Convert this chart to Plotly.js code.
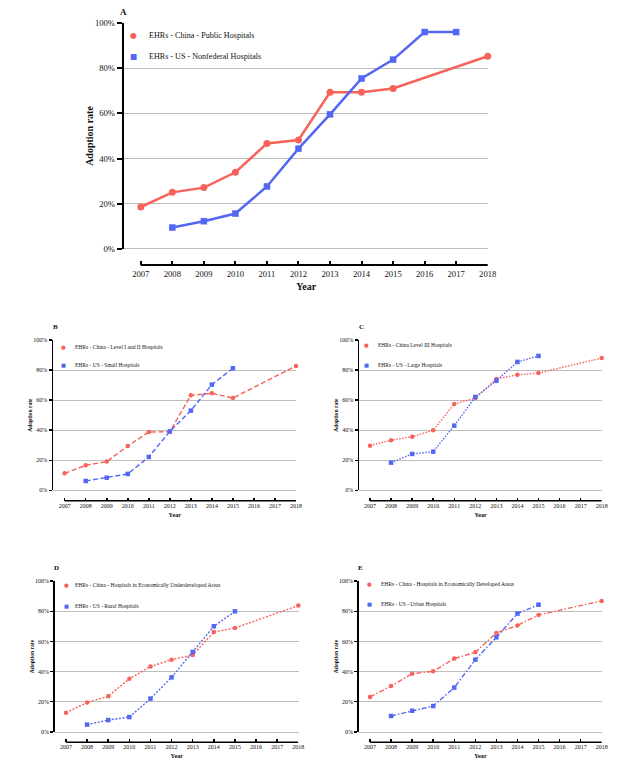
<!DOCTYPE html>
<html>
<head>
<meta charset="utf-8">
<script src="https://cdn.plot.ly/plotly-3.0.1.min.js"></script>
<style>
html,body{margin:0;padding:0;background:#ffffff;}
#chart{width:641px;height:769px;}
</style>
</head>
<body>
<div id="chart"></div>
<script>
// ---------------- DATA ----------------
const years = [2007, 2008, 2009, 2010, 2011, 2012, 2013, 2014, 2015, 2016, 2017, 2018];
const yearLabels = ['2007', '2008', '2009', '2010', '2011', '2012', '2013', '2014', '2015', '2016', '2017', '2018'];
const pctTicks = [0, 20, 40, 60, 80, 100];
const pctLabels = ['0%', '20%', '40%', '60%', '80%', '100%'];

const chinaYears = [2007, 2008, 2009, 2010, 2011, 2012, 2013, 2014, 2015, 2018];
const usYearsA = [2008, 2009, 2010, 2011, 2012, 2013, 2014, 2015, 2016, 2017];
const usYears = [2008, 2009, 2010, 2011, 2012, 2013, 2014, 2015];

// Panel A
const chinaPublic = [18.5, 25.0, 27.1, 33.9, 46.7, 48.2, 69.4, 69.4, 71.1, 85.4];
const usNonfederal = [9.4, 12.2, 15.6, 27.6, 44.4, 59.6, 75.5, 83.9, 96.1, 96.1];
// Panel B
const chinaLevel12 = [11.3, 16.6, 19.1, 29.5, 38.8, 39.0, 63.2, 64.5, 61.4, 82.7];
const usSmall = [6.2, 8.4, 10.9, 22.2, 39.2, 53.0, 70.3, 81.2];
// Panel C
const chinaLevel3 = [29.7, 33.3, 35.7, 39.9, 57.4, 61.4, 74.1, 76.9, 78.0, 88.0];
const usLarge = [18.4, 24.2, 25.7, 43.0, 62.1, 72.9, 85.4, 89.4];
// Panel D
const chinaUnderdeveloped = [12.8, 19.6, 23.6, 35.3, 43.3, 47.9, 51.0, 66.2, 68.9, 83.7];
const usRural = [4.9, 7.9, 9.9, 22.1, 36.2, 53.0, 70.0, 79.9];
// Panel E
const chinaDeveloped = [23.2, 30.5, 38.6, 40.2, 48.6, 52.8, 65.6, 70.6, 77.5, 86.8];
const usUrban = [10.6, 14.1, 17.2, 29.4, 47.9, 62.7, 78.4, 84.3];

const panelLetters = ['A', 'B', 'C', 'D', 'E'];
const chinaNames = [
  'EHRs - China - Public Hospitals',
  'EHRs - China - Level I and II Hospitals',
  'EHRs - China Level III Hospitals',
  'EHRs - China - Hospitals in Economically Underdeveloped Areas',
  'EHRs - China - Hospitals in Economically Developed Areas'
];
const usNames = [
  'EHRs - US - Nonfederal Hospitals',
  'EHRs - US - Small Hospitals',
  'EHRs - US - Large Hospitals',
  'EHRs - US - Rural Hospitals',
  'EHRs - US - Urban Hospitals'
];
const xTitle = 'Year';
const yTitle = 'Adoption rate';

// ---------------- STYLE / GEOMETRY ----------------
const W = 641, H = 769;
const FONT = '"Liberation Serif", "Times New Roman", Times, serif';
const GLYPH_FONT = '"DejaVu Sans", sans-serif';
const RED = '#f7625a', BLUE = '#5267f4', GRID = '#bdbdbd', INK = '#111111';
const pxX = v => v / W;
const pxY = v => 1 - v / H;

// geometry in pixels for each panel
const geo = [
  {axL: 124.3, x0: 140.8, x1: 487.7, top: 23.3, bot: 248.7, xline: 265.0, big: true,
   mkX: 133.3, txtX: 146.7, legY: [35.7, 56.7], dash: 'solid', labX: 123, labY: 12},
  {axL: 53.3, x0: 64.7, x1: 296.0, top: 340.0, bot: 490.3, xline: 500.7, big: false,
   mkX: 63.3, txtX: 72.7, legY: [346.7, 364.7], dash: '5px,2.5px', labX: 55, labY: 327},
  {axL: 359.3, x0: 370.0, x1: 601.7, top: 340.0, bot: 490.3, xline: 500.7, big: false,
   mkX: 366.7, txtX: 376.0, legY: [345.3, 364.7], dash: '1.5px,1.5px', labX: 361, labY: 327},
  {axL: 55.0, x0: 66.0, x1: 298.3, top: 581.0, bot: 732.0, xline: 742.3, big: false,
   mkX: 66.0, txtX: 73.3, legY: [585.3, 605.7], dash: '2px,1.6px', labX: 56, labY: 568},
  {axL: 359.0, x0: 370.0, x1: 601.7, top: 581.0, bot: 732.0, xline: 742.3, big: false,
   mkX: 370.0, txtX: 379.3, legY: [584.0, 604.3], dash: '5px,2px,1.5px,2px', labX: 360, labY: 568}
];

const chinaSeries = [chinaPublic, chinaLevel12, chinaLevel3, chinaUnderdeveloped, chinaDeveloped];
const usSeries = [usNonfederal, usSmall, usLarge, usRural, usUrban];
const usXs = [usYearsA, usYears, usYears, usYears, usYears];

const data = [];
const layout = {
  width: W, height: H,
  margin: {l: 0, r: 0, t: 0, b: 0, pad: 0},
  paper_bgcolor: '#ffffff',
  plot_bgcolor: 'rgba(0,0,0,0)',
  showlegend: false,
  font: {family: FONT, color: INK},
  shapes: [],
  annotations: []
};

geo.forEach((g, i) => {
  const sfx = i === 0 ? '' : String(i + 1);
  const xa = 'x' + sfx, ya = 'y' + sfx;
  const perYear = (g.x1 - g.x0) / (years[years.length - 1] - years[0]);
  const xStart = years[0] - (g.x0 - g.axL) / perYear;
  const xEnd = years[years.length - 1] + 0.3 / perYear;
  const lw = g.big ? 2.5 : 1.4;
  const ms = g.big ? 7 : 4.5;
  const msq = g.big ? 6.5 : 4.5;

  data.push({
    type: 'scatter', mode: 'lines+markers', name: chinaNames[i],
    x: chinaYears, y: chinaSeries[i], xaxis: xa, yaxis: ya,
    line: {color: RED, width: lw, dash: g.dash},
    marker: {color: RED, size: ms, symbol: 'circle'},
    cliponaxis: false
  });
  data.push({
    type: 'scatter', mode: 'lines+markers', name: usNames[i],
    x: usXs[i], y: usSeries[i], xaxis: xa, yaxis: ya,
    line: {color: BLUE, width: lw, dash: g.dash},
    marker: {color: BLUE, size: msq, symbol: 'square'},
    cliponaxis: false
  });

  const tickFont = {family: FONT, size: g.big ? 8.6 : 6, color: INK};
  layout['xaxis' + sfx] = {
    domain: [pxX(g.axL), pxX(g.x1 + 0.3)],
    range: [xStart, xEnd],
    anchor: 'free',
    position: pxY(g.xline),
    showline: false,
    showgrid: false,
    zeroline: false,
    tickmode: 'array',
    tickvals: years,
    ticktext: yearLabels,
    ticks: 'inside',
    ticklen: g.big ? 4 : 3,
    tickwidth: g.big ? 2 : 1.5,
    tickcolor: '#000',
    tickfont: tickFont,
    ticklabelstandoff: g.big ? 2 : 0,
    title: {text: xTitle, font: {family: FONT, size: g.big ? 10 : 6.2, color: INK, weight: 'bold'}, standoff: g.big ? 5 : 4},
    fixedrange: true
  };
  layout['yaxis' + sfx] = {
    domain: [pxY(g.bot), pxY(g.top)],
    range: [0, 100],
    anchor: xa,
    showline: true,
    linecolor: '#000',
    linewidth: g.big ? 2.6 : 1.8,
    showgrid: true,
    gridcolor: GRID,
    gridwidth: g.big ? 1.3 : 1,
    zeroline: true,
    zerolinecolor: GRID,
    zerolinewidth: g.big ? 1.3 : 1,
    tickmode: 'array',
    tickvals: pctTicks,
    ticktext: pctLabels,
    ticks: 'outside',
    ticklen: g.big ? 5 : 3,
    tickwidth: g.big ? 2 : 1.4,
    tickcolor: '#000',
    tickfont: tickFont,
    title: {text: yTitle, font: {family: FONT, size: g.big ? 10 : 5.6, color: INK, weight: 'bold'}, standoff: 0},
    fixedrange: true
  };
  // offset x-axis line spanning first to last year
  layout.shapes.push({
    type: 'line', xref: xa, yref: 'paper',
    x0: years[0], x1: years[years.length - 1],
    y0: pxY(g.xline), y1: pxY(g.xline),
    line: {color: '#000', width: g.big ? 2.2 : 1.5}
  });

  // legend (glyph + label) for each series
  const entries = [
    {name: chinaNames[i], color: RED, glyph: '\u25CF', gsize: g.big ? 8 : 5.4},
    {name: usNames[i], color: BLUE, glyph: '\u25A0', gsize: g.big ? 7.6 : 5.2}
  ];
  entries.forEach((e, j) => {
    layout.annotations.push({
      text: e.glyph, xref: 'paper', yref: 'paper',
      x: pxX(g.mkX), y: pxY(g.legY[j]), xanchor: 'center', yanchor: 'middle',
      showarrow: false, font: {family: GLYPH_FONT, size: e.gsize, color: e.color}
    });
    layout.annotations.push({
      text: e.name, xref: 'paper', yref: 'paper',
      x: pxX(g.txtX), y: pxY(g.legY[j]), xanchor: 'left', yanchor: 'middle',
      showarrow: false, font: {family: FONT, size: g.big ? 8.1 : 5.5, color: INK}
    });
  });

  layout.annotations.push({
    text: '<b>' + panelLetters[i] + '</b>', xref: 'paper', yref: 'paper',
    x: pxX(g.labX), y: pxY(g.labY), xanchor: 'center', yanchor: 'middle',
    showarrow: false, font: {family: FONT, size: g.big ? 9 : 7, color: INK}
  });
});

Plotly.newPlot('chart', data, layout, {displayModeBar: false, staticPlot: true});
</script>
</body>
</html>
